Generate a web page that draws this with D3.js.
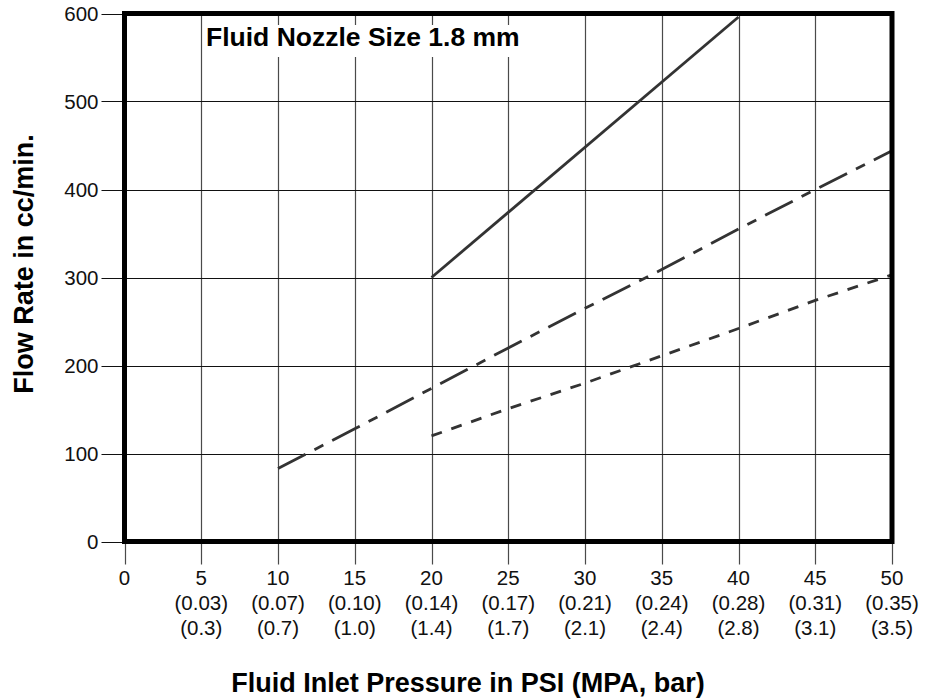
<!DOCTYPE html>
<html><head><meta charset="utf-8">
<script src="https://cdn.jsdelivr.net/npm/d3@7"></script>
<style>
body{margin:0;background:#fff}
svg{display:block}
text{font-family:"Liberation Sans",Arial,Helvetica,sans-serif}
</style>
</head><body>
<svg id="c" width="935" height="700"></svg>
<script>
// ---- data ----
const psiTicks = [0, 5, 10, 15, 20, 25, 30, 35, 40, 45, 50];
const mpaLabels = ["", "(0.03)", "(0.07)", "(0.10)", "(0.14)", "(0.17)", "(0.21)", "(0.24)", "(0.28)", "(0.31)", "(0.35)"];
const barLabels = ["", "(0.3)", "(0.7)", "(1.0)", "(1.4)", "(1.7)", "(2.1)", "(2.4)", "(2.8)", "(3.1)", "(3.5)"];
const flowTicks = [0, 100, 200, 300, 400, 500, 600];

const solidPsi = [20, 40];
const solidFlow = [300, 596];
const longDashPsi = [10, 15, 20, 25, 30, 35, 40, 45, 50];
const longDashFlow = [83, 128, 174, 220, 265, 309, 355, 400, 444];
const shortDashPsi = [20, 25, 30, 35, 40, 45, 50];
const shortDashFlow = [120, 151, 180, 211, 242, 274, 303];

const chartTitle = "Fluid Nozzle Size 1.8 mm";
const xTitle = "Fluid Inlet Pressure in PSI (MPA, bar)";
const yTitle = "Flow Rate in cc/min.";

// ---- drawing ----
const svg = d3.select("#c");
const x = d3.scaleLinear().domain([0, 50]).range([124.5, 892]);
const y = d3.scaleLinear().domain([0, 600]).range([541.5, 13.5]);
const tickLen = 23;
const snap = v => Math.round(v) + 0.5;

// grid + ticks
const grid = svg.append("g");
grid.selectAll("line.v").data(psiTicks).join("line")
  .attr("class", "v")
  .attr("x1", d => snap(x(d))).attr("x2", d => snap(x(d)))
  .attr("y1", y(600)).attr("y2", y(0) + tickLen)
  .attr("stroke", "#4a4a4a").attr("stroke-width", 1.2);
grid.selectAll("line.h").data(flowTicks).join("line")
  .attr("class", "h")
  .attr("x1", x(0) - tickLen).attr("x2", x(50))
  .attr("y1", d => snap(y(d))).attr("y2", d => snap(y(d)))
  .attr("stroke", "#111").attr("stroke-width", 1.2);

// title with white backing box
const titleG = svg.append("g");
const tt = titleG.append("text")
  .attr("x", 206).attr("y", 46)
  .attr("font-size", 26.5).attr("font-weight", "bold").attr("fill", "#000")
  .text(chartTitle);
const bb = tt.node().getBBox();
titleG.insert("rect", "text")
  .attr("x", bb.x - 2).attr("y", 25).attr("width", bb.width + 4).attr("height", 32)
  .attr("fill", "#fff");

// series
const line = d3.line().x(d => x(d[0])).y(d => y(d[1]));
const series = [
  {px: solidPsi, fy: solidFlow, dash: null},
  {px: longDashPsi, fy: longDashFlow, dash: "31,10,10,10"},
  {px: shortDashPsi, fy: shortDashFlow, dash: "11,10"}
];
series.forEach(s => {
  svg.append("path")
    .datum(d3.zip(s.px, s.fy))
    .attr("d", line)
    .attr("fill", "none")
    .attr("stroke", "#333")
    .attr("stroke-width", 2.8)
    .attr("stroke-dasharray", s.dash);
});

// frame
svg.append("rect")
  .attr("x", x(0)).attr("y", y(600))
  .attr("width", x(50) - x(0)).attr("height", y(0) - y(600))
  .attr("fill", "none").attr("stroke", "#000").attr("stroke-width", 5);

// y tick labels
svg.append("g").selectAll("text").data(flowTicks).join("text")
  .attr("x", x(0) - tickLen - 3).attr("y", d => y(d))
  .attr("dy", "0.36em").attr("text-anchor", "end")
  .attr("font-size", 20.5).attr("fill", "#111")
  .text(d => d);

// x tick labels (three rows)
const xl = svg.append("g").selectAll("g").data(psiTicks).join("g")
  .attr("transform", d => `translate(${x(d)},0)`);
xl.append("text").attr("y", 585).attr("text-anchor", "middle")
  .attr("font-size", 20.5).attr("fill", "#111").text(d => d);
xl.append("text").attr("y", 610).attr("text-anchor", "middle")
  .attr("font-size", 20.5).attr("fill", "#111").text((d, i) => mpaLabels[i]);
xl.append("text").attr("y", 635).attr("text-anchor", "middle")
  .attr("font-size", 20.5).attr("fill", "#111").text((d, i) => barLabels[i]);

// axis titles
svg.append("text")
  .attr("x", 468).attr("y", 692).attr("text-anchor", "middle")
  .attr("font-size", 27).attr("font-weight", "bold").attr("fill", "#000")
  .text(xTitle);
svg.append("text")
  .attr("transform", "translate(33,264) rotate(-90)")
  .attr("text-anchor", "middle")
  .attr("font-size", 27).attr("font-weight", "bold").attr("fill", "#000")
  .text(yTitle);
</script>
</body></html>
